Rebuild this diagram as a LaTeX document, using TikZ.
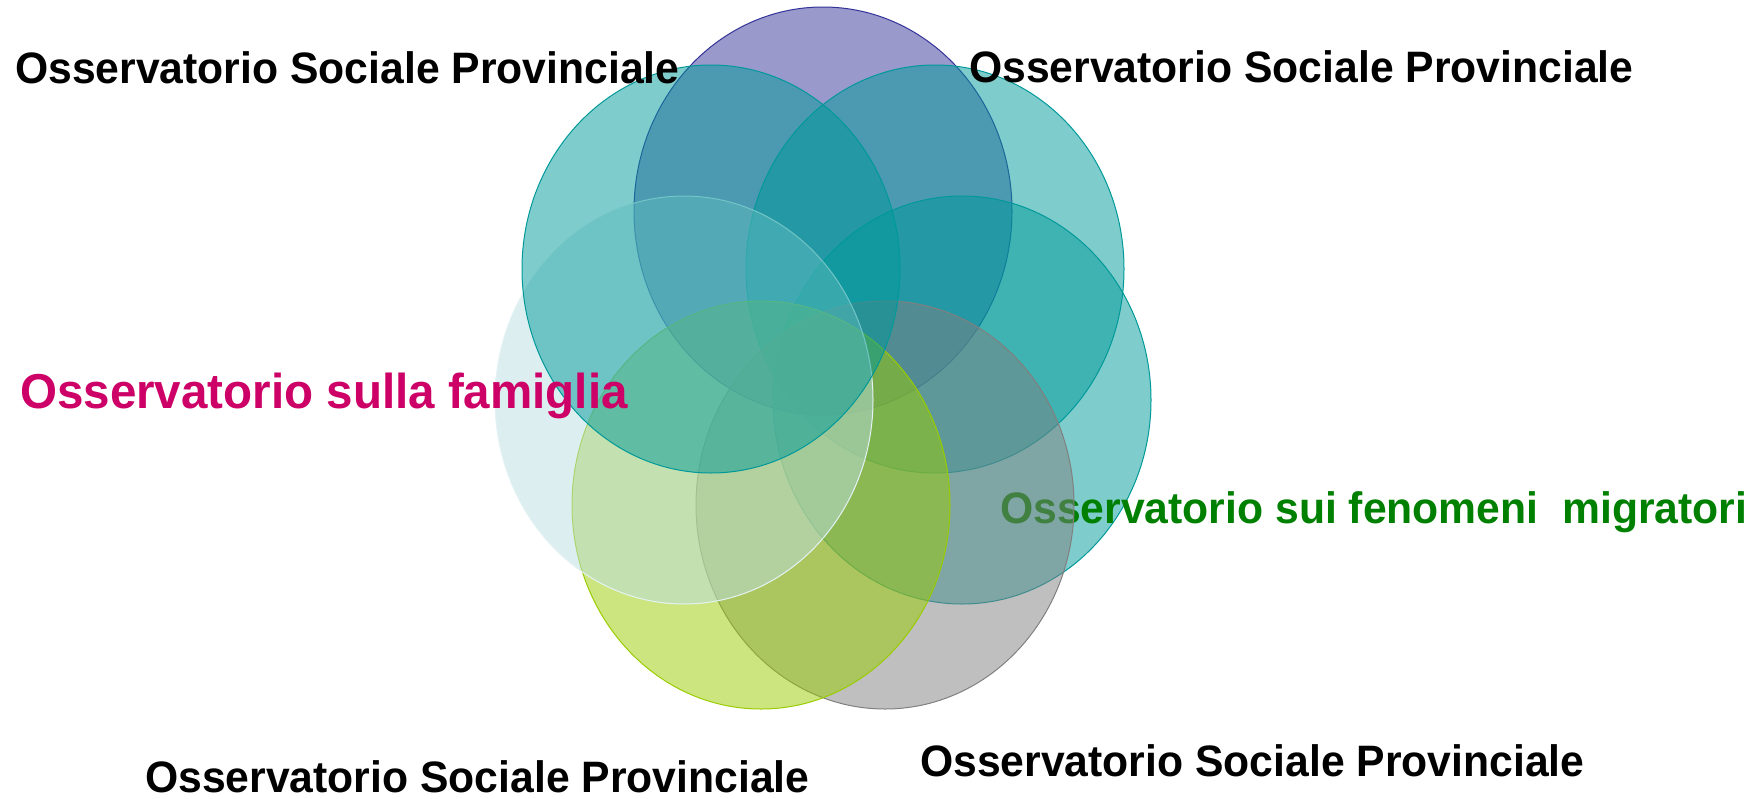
\documentclass[tikz,border=0pt]{standalone}
\usepackage{fontspec}
\setmainfont{Liberation Sans}[FakeStretch=0.97]
\usepackage{xcolor}
\usepackage{tikz}

\definecolor{petalpurple}{HTML}{333399}
\definecolor{petalteal}{HTML}{009999}
\definecolor{petalgray}{HTML}{808080}
\definecolor{petalgreen}{HTML}{99CC00}
\definecolor{petalblue}{HTML}{BBDDE1}
\definecolor{petalblueline}{HTML}{E4F2F4}
\definecolor{famigliapink}{HTML}{CC0066}
\definecolor{migratorigreen}{HTML}{008000}

\tikzset{
    petal/.style={line width=1pt, fill opacity=0.5, x radius=189pt, y radius=204pt},
    osslabel/.style={anchor=base west, inner sep=0pt, font=\fontsize{44}{50}\selectfont\bfseries},
}

\begin{document}
\begin{tikzpicture}[x=1pt, y=-1pt]
        \useasboundingbox (0, 0) rectangle (1755, 798);

        \draw[petal, draw=petalpurple, fill=petalpurple] (823, 211) ellipse [];
        \draw[petal, draw=petalteal, fill=petalteal] (935, 269) ellipse [];
        \draw[petal, draw=petalteal, fill=petalteal] (962, 400) ellipse [];

        \node[osslabel, text=migratorigreen] (migratori) at (1000, 523) {Osservatorio sui fenomeni\ \ migratori};

        \draw[petal, draw=petalgray, fill=petalgray] (885, 505) ellipse [];
        \draw[petal, draw=petalgreen, fill=petalgreen] (761, 505) ellipse [];
        \draw[petal, draw=petalblueline, fill=petalblue] (684, 400) ellipse [];
        \draw[petal, draw=petalteal, fill=petalteal] (711, 269) ellipse [];

        \node[osslabel] (provTL) at (15, 83) {Osservatorio Sociale Provinciale};
        \node[osslabel] (provTR) at (969, 82) {Osservatorio Sociale Provinciale};
        \node[osslabel] (provBL) at (145, 792) {Osservatorio Sociale Provinciale};
        \node[osslabel] (provBR) at (920, 776) {Osservatorio Sociale Provinciale};

        \node[osslabel, text=famigliapink, font=\fontsize{49}{55}\selectfont\bfseries] (famiglia) at (20, 408) {Osservatorio sulla famiglia};
    \end{tikzpicture}
\end{document}
